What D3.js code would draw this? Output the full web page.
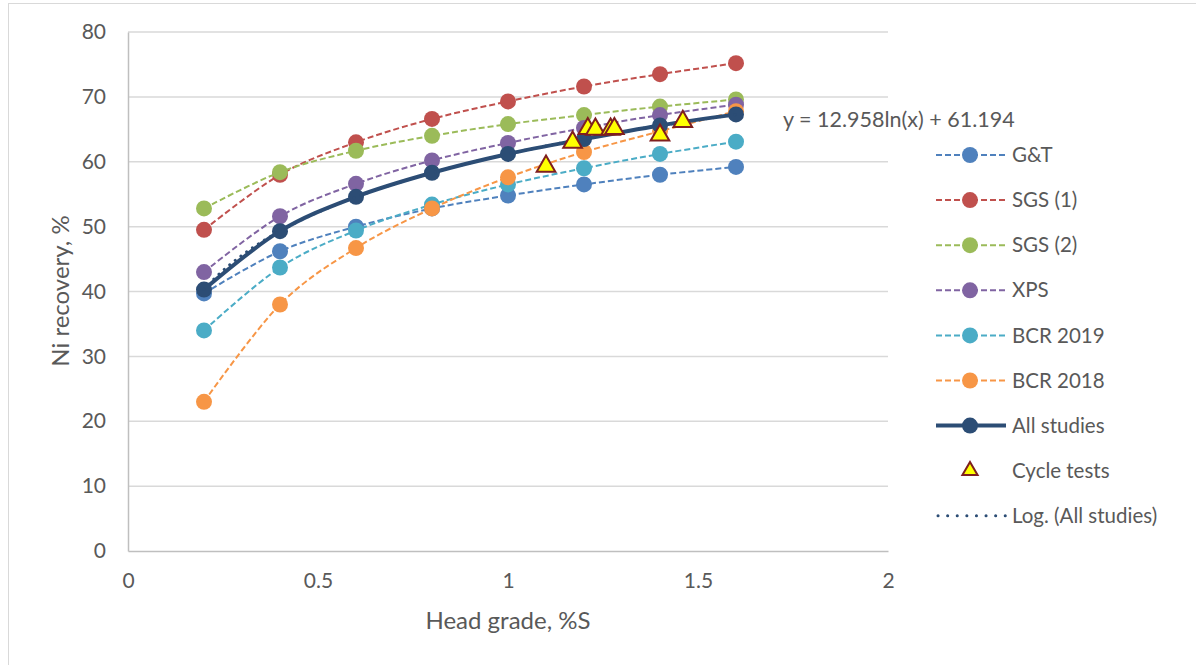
<!DOCTYPE html>
<html><head><meta charset="utf-8">
<script src="https://cdn.jsdelivr.net/npm/d3@7"></script>
<style>
body{margin:0;background:#fff;}
svg{display:block;font-family:Lato, "Open Sans", sans-serif;}
</style></head>
<body><svg id="c" width="1196" height="665"></svg>
<script>
const grades = [0.2, 0.4, 0.6, 0.8, 1.0, 1.2, 1.4, 1.6];
const seriesNames = ["G&T", "SGS (1)", "SGS (2)", "XPS", "BCR 2019", "BCR 2018", "All studies"];
const gtValues    = [39.7, 46.2, 50.0, 52.8, 54.8, 56.5, 58.0, 59.2];
const sgs1Values  = [49.5, 58.0, 63.0, 66.6, 69.3, 71.6, 73.5, 75.2];
const sgs2Values  = [52.8, 58.4, 61.7, 64.0, 65.8, 67.2, 68.5, 69.6];
const xpsValues   = [43.0, 51.6, 56.6, 60.2, 62.9, 65.2, 67.2, 68.8];
const bcr19Values = [34.0, 43.7, 49.4, 53.4, 56.5, 59.0, 61.2, 63.1];
const bcr18Values = [23.0, 38.0, 46.7, 52.8, 57.6, 61.5, 64.7, 67.8];
const allValues   = [40.3, 49.3, 54.6, 58.3, 61.2, 63.5, 65.6, 67.3];
const cycleX = [1.10, 1.17, 1.21, 1.23, 1.27, 1.28, 1.40, 1.46];
const cycleY = [59.3, 63.0, 65.1, 65.0, 65.0, 65.1, 64.1, 66.2];
const logA = 12.958, logB = 61.194;
const xTicks = [0, 0.5, 1, 1.5, 2];
const yTicks = [0, 10, 20, 30, 40, 50, 60, 70, 80];
const colors = ["#4F81BD", "#C0504D", "#9BBB59", "#8064A2", "#4BACC6", "#F79646", "#2C4D75"];

const svg = d3.select("#c");
const x = d3.scaleLinear().domain([0, 2]).range([128, 888]);
const y = d3.scaleLinear().domain([0, 80]).range([551, 32]);
const textColor = "#595959";

// outer border
svg.append("rect").attr("x", 8.5).attr("y", 3.5).attr("width", 1300).attr("height", 800)
  .attr("fill", "none").attr("stroke", "#d9d9d9");

// gridlines
svg.append("g").selectAll("line").data(yTicks.slice(1)).join("line")
  .attr("x1", x(0)).attr("x2", x(2)).attr("y1", d => y(d)).attr("y2", d => y(d))
  .attr("stroke", "#d9d9d9").attr("stroke-width", 1.5);

// axes
const xAxis = svg.append("g").attr("transform", `translate(0,${y(0)})`)
  .call(d3.axisBottom(x).tickValues(xTicks).tickSize(0).tickPadding(22).tickFormat(d => d));
const yAxis = svg.append("g").attr("transform", `translate(${x(0)},0)`)
  .call(d3.axisLeft(y).tickValues(yTicks).tickSize(0).tickPadding(22));
[xAxis, yAxis].forEach(a => {
  a.select(".domain").attr("stroke", "#bfbfbf").attr("stroke-width", 1.5);
  a.selectAll("text").attr("fill", textColor).attr("font-size", 21).attr("font-family", "Lato, sans-serif");
});

svg.append("text").attr("x", 508).attr("y", 629).attr("text-anchor", "middle")
  .attr("fill", textColor).attr("font-size", 24).text("Head grade, %S");
svg.append("text").attr("transform", "translate(69,291) rotate(-90)").attr("text-anchor", "middle")
  .attr("fill", textColor).attr("font-size", 24).text("Ni recovery, %");

const allSeries = [gtValues, sgs1Values, sgs2Values, xpsValues, bcr19Values, bcr18Values, allValues];
const line = d3.line().x(d => x(d[0])).y(d => y(d[1])).curve(d3.curveCatmullRom.alpha(0));

allSeries.forEach((vals, i) => {
  const pts = grades.map((g, j) => [g, vals[j]]);
  const main = i === 6;
  const g = svg.append("g");
  g.append("path").datum(pts).attr("d", line).attr("fill", "none")
    .attr("stroke", colors[i]).attr("stroke-width", main ? 4 : 2)
    .attr("stroke-dasharray", main ? null : "6,3");
  g.selectAll("circle").data(pts).join("circle")
    .attr("cx", d => x(d[0])).attr("cy", d => y(d[1])).attr("r", 8)
    .attr("fill", colors[i]);
});

// log trendline
const trend = d3.range(0.2, 1.6001, 0.01).map(v => [v, logA * Math.log(v) + logB]);
svg.append("path").datum(trend).attr("d", d3.line().x(d => x(d[0])).y(d => y(d[1])))
  .attr("fill", "none").attr("stroke", "#2C4D75").attr("stroke-width", 3)
  .attr("stroke-linecap", "round").attr("stroke-dasharray", "0.1,7");

// cycle tests
const tri = d3.symbol().type(d3.symbolTriangle).size(150);
svg.append("g").selectAll("path").data(cycleX.map((v, i) => [v, cycleY[i]])).join("path")
  .attr("d", tri).attr("transform", d => `translate(${x(d[0])},${y(d[1])})`)
  .attr("fill", "#FFFF00").attr("stroke", "#7F1F1F").attr("stroke-width", 2);

// equation
svg.append("text").attr("x", 783).attr("y", 127).attr("fill", textColor).attr("font-size", 21.5)
  .text(`y = ${logA}ln(x) + ${logB}`);

// legend
const legendNames = seriesNames.concat(["Cycle tests", "Log. (All studies)"]);
const lg = svg.append("g");
const triSmall = d3.symbol().type(d3.symbolTriangle).size(100);
legendNames.forEach((name, i) => {
  const ly = 155 + i * 45.1;
  if (i < 7) {
    lg.append("line").attr("x1", 936).attr("x2", 1006).attr("y1", ly).attr("y2", ly)
      .attr("stroke", colors[i]).attr("stroke-width", i === 6 ? 4 : 2)
      .attr("stroke-dasharray", i === 6 ? null : "6,3");
    lg.append("circle").attr("cx", 970).attr("cy", ly).attr("r", 8).attr("fill", colors[i]);
  } else if (i === 7) {
    lg.append("path").attr("d", triSmall).attr("transform", `translate(970,${ly})`)
      .attr("fill", "#FFFF00").attr("stroke", "#7F1F1F").attr("stroke-width", 2);
  } else {
    lg.append("line").attr("x1", 938).attr("x2", 1006).attr("y1", ly).attr("y2", ly)
      .attr("stroke", "#2C4D75").attr("stroke-width", 3).attr("stroke-linecap", "round")
      .attr("stroke-dasharray", "0.1,9.5");
  }
  lg.append("text").attr("x", 1012).attr("y", ly).attr("dy", "0.35em")
    .attr("fill", textColor).attr("font-size", 20.5).text(name);
});
</script></body></html>
